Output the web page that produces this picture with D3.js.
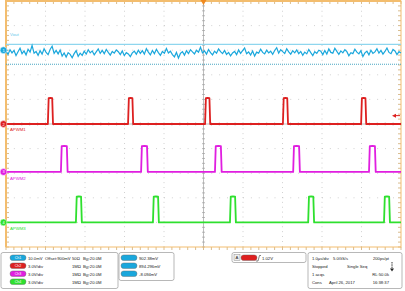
<!DOCTYPE html>
<html>
<head>
<meta charset="utf-8">
<script src="https://cdn.jsdelivr.net/npm/d3@7"></script>
<style>
  html, body { margin: 0; padding: 0; background: #fff; }
  svg text { font-family: "Liberation Sans", Arial, sans-serif; }
</style>
</head>
<body>
<div id="scope"></div>
<script>
// Scope capture values (time in µs, voltage in V or mV)
const vout = [899.6, 898.3, 900.2, 898.9, 899.9, 897.8, 899.4, 900.8, 898.6, 899.7, 898.1, 900.4, 899.2, 901.9, 898.8, 899.5,
  897.9, 899.8, 898.4, 900.6, 899.1, 898.2, 900.3, 901.6, 898.7, 899.9, 898.5, 900.1, 897.6, 898.9, 897.2, 899.0,
  898.3, 896.9, 898.6, 899.8, 897.5, 898.8, 897.9, 899.6, 898.4, 900.2, 898.9, 899.7, 898.1, 899.3, 900.5, 898.7,
  899.9, 898.6, 900.3, 899.1, 898.0, 899.5, 898.8, 900.1, 899.4, 898.2, 899.7, 897.8, 899.0, 898.5, 897.4, 898.9,
  899.6, 898.3, 900.0, 898.7, 899.8, 898.4, 900.6, 899.2, 898.1, 899.9, 898.6, 900.4, 899.0, 897.9, 899.5, 898.8,
  900.7, 898.9, 899.6, 898.2, 897.3, 899.1, 896.8, 898.7, 899.4, 898.0, 899.8, 898.6, 900.2, 899.3, 898.5, 900.0,
  899.2, 901.2, 898.9, 899.7, 898.4, 900.3, 899.0, 898.1, 899.6, 898.8, 900.5, 899.4, 898.6, 899.9, 898.3, 899.1,
  897.7, 898.9, 899.5, 898.2, 900.1, 898.7, 899.8, 900.9, 898.6, 899.3, 898.0, 899.7, 897.6, 899.2, 898.8, 900.4,
  899.1, 898.5, 900.0, 898.9, 899.6, 898.3, 899.9, 901.0, 898.8, 900.2, 899.4, 898.7, 900.6, 899.3, 898.4, 899.8,
  898.9, 900.1, 898.6, 899.5, 897.9, 899.2, 898.5, 900.3, 899.0, 897.8, 899.4, 898.7, 900.0, 899.6, 898.2, 899.9,
  898.4, 900.5, 899.1, 898.8, 900.8, 899.5, 898.3, 899.7, 898.9, 900.2, 899.4, 897.7, 899.0, 898.6, 900.4, 899.2,
  898.5, 899.8, 897.4, 898.9, 899.6, 898.1, 900.0, 898.7, 899.3, 900.6, 898.8, 899.9, 898.4, 899.5, 900.9, 899.1,
  898.6, 900.3, 899.7, 898.2, 899.4, 898.9];
const pwm1Starts = [-3.94, -1.91, 0.04, 2.01, 3.99];
const pwm2Starts = [-3.61, -1.58, 0.29, 2.27, 4.19];
const pwm3Starts = [-3.23, -1.28, 0.67, 2.65, 4.57];
const pulseWidths = [0.13, 0.17, 0.15];
const pulseHigh = 3.15;
const cursorA = 902.38, cursorB = 894.296;
const triggerLevel = 1.02;

const chanRows = [
  ["10.0mV", "Offset:900mV", "50Ω", "20.0M"],
  ["3.0V/div", "", "1MΩ", "20.0M"],
  ["3.0V/div", "", "1MΩ", "20.0M"],
  ["3.0V/div", "", "1MΩ", "20.0M"]
];
const measRows = ["902.38mV", "894.296mV", "-8.094mV"];
const timeRows = [
  ["1.0µs/div", "5.0GS/s", "200ps/pt"],
  ["Stopped", "Single Seq", ""],
  ["1 acqs", "", "RL:50.0k"],
  ["Cons", "April 26, 2017", "16:38:37"]
];

const W = 405, H = 291;
const X0 = 6, X1 = 401, Y0 = 1, Y1 = 247;
const divH = (Y1 - Y0) / 10;
const colors = { c1: "#1aa7dc", c2: "#dd2020", c3: "#e01ee0", c4: "#2ee02e", frame: "#f3bd6e" };

const svg = d3.select("#scope").append("svg")
  .attr("width", W).attr("height", H);

const x = d3.scaleLinear().domain([-5, 5]).range([X0, X1]);

// channel vertical scale: position in divisions, volts per division, offset
function chanScale(pos, vdiv, offset) {
  return d3.scaleLinear()
    .domain([offset - (5 + pos) * vdiv, offset + (5 - pos) * vdiv])
    .range([Y1, Y0]);
}
const y1 = chanScale(3, 10, 900);
const y2 = chanScale(0, 3, 0);
const y3 = chanScale(-1.95, 3, 0);
const y4 = chanScale(-4, 3, 0);

// graticule
const grid = svg.append("g");
d3.range(1, 10).forEach(i => {
  if (i === 5) return;
  const gx = X0 + i * (X1 - X0) / 10;
  grid.append("line").attr("x1", gx).attr("x2", gx).attr("y1", Y0).attr("y2", Y1)
    .attr("stroke", "#b8b8b8").attr("stroke-width", 0.8).attr("stroke-dasharray", "0.8,4.1");
  const gy = Y0 + i * divH;
  grid.append("line").attr("x1", X0).attr("x2", X1).attr("y1", gy).attr("y2", gy)
    .attr("stroke", "#b8b8b8").attr("stroke-width", 0.8).attr("stroke-dasharray", "0.8,7.1");
});
const cx = x(0), cy = Y0 + 5 * divH;
grid.append("line").attr("x1", cx).attr("x2", cx).attr("y1", Y0).attr("y2", Y1)
  .attr("stroke", "#a0a0a0").attr("stroke-width", 0.7);
grid.append("line").attr("x1", X0).attr("x2", X1).attr("y1", cy).attr("y2", cy)
  .attr("stroke", "#a0a0a0").attr("stroke-width", 0.7);
// minor ticks on center lines and frame
const tickG = svg.append("g").attr("stroke-width", 0.7);
d3.range(0, 51).forEach(i => {
  const tx = X0 + i * (X1 - X0) / 50;
  tickG.append("line").attr("x1", tx).attr("x2", tx).attr("y1", cy - 1.5).attr("y2", cy + 1.5).attr("stroke", "#a0a0a0");
  tickG.append("line").attr("x1", tx).attr("x2", tx).attr("y1", Y0).attr("y2", Y0 + 3).attr("stroke", "#c9a060");
  tickG.append("line").attr("x1", tx).attr("x2", tx).attr("y1", Y1).attr("y2", Y1 + 3).attr("stroke", "#c9a060");
  const ty = Y0 + i * (Y1 - Y0) / 50;
  tickG.append("line").attr("x1", cx - 1.5).attr("x2", cx + 1.5).attr("y1", ty).attr("y2", ty).attr("stroke", "#a0a0a0");
  tickG.append("line").attr("x1", X0).attr("x2", X0 + 3).attr("y1", ty).attr("y2", ty).attr("stroke", "#c9a060");
  tickG.append("line").attr("x1", X1 - 3).attr("x2", X1).attr("y1", ty).attr("y2", ty).attr("stroke", "#c9a060");
});

// frame
svg.append("rect").attr("x", X0).attr("y", Y0).attr("width", X1 - X0).attr("height", Y1 - Y0)
  .attr("fill", "none").attr("stroke", colors.frame).attr("stroke-width", 1);
svg.append("line").attr("x1", X0).attr("x2", X0).attr("y1", 0).attr("y2", Y1)
  .attr("stroke", colors.frame).attr("stroke-width", 2);
svg.append("line").attr("x1", X0).attr("x2", X1).attr("y1", Y0).attr("y2", Y0)
  .attr("stroke", colors.frame).attr("stroke-width", 2);

// cursors on channel 1
svg.append("line").attr("x1", X0).attr("x2", X1).attr("y1", y1(cursorA)).attr("y2", y1(cursorA))
  .attr("stroke", "#8fd6ee").attr("stroke-width", 1.4);
svg.append("line").attr("x1", X0).attr("x2", X1).attr("y1", y1(cursorB)).attr("y2", y1(cursorB))
  .attr("stroke", "#4aa6c2").attr("stroke-width", 1.2).attr("stroke-dasharray", "1,1");

// traces
const dt = 10 / (vout.length - 1);
const line1 = d3.line().x((d, i) => x(-5 + i * dt)).y(d => y1(d));
svg.append("path").datum(vout).attr("d", line1)
  .attr("fill", "none").attr("stroke", colors.c1).attr("stroke-width", 1.2);

function pulseTrain(starts, width) {
  const pts = [[-5, 0]];
  starts.forEach(s => {
    pts.push([s, 0], [s + 0.02, pulseHigh], [s + width / 2, pulseHigh * 1.01],
      [s + width - 0.02, pulseHigh], [s + width, 0]);
  });
  pts.push([5, 0]);
  return pts;
}
[[pwm1Starts, y2, colors.c2, 0], [pwm2Starts, y3, colors.c3, 1], [pwm3Starts, y4, colors.c4, 2]]
  .forEach(([starts, ys, col, k]) => {
    const ln = d3.line().x(d => x(d[0])).y(d => ys(d[1]));
    svg.append("path").datum(pulseTrain(starts, pulseWidths[k])).attr("d", ln)
      .attr("fill", "none").attr("stroke", col).attr("stroke-width", 1.8)
      .attr("stroke-linejoin", "round");
  });

// trace labels
const labels = [["Vout", y1(900) - 14, "#5cc6ea"], ["APWM1", y2(0) + 7, colors.c2],
  ["APWM2", y3(0) + 8, colors.c3], ["APWM3", y4(0) + 8, colors.c4]];
labels.forEach(([t, ly, col]) => {
  svg.append("text").attr("x", 10).attr("y", ly).attr("font-size", 4.3).attr("fill", col).text(t);
});

// channel ground markers
[[y1(900), colors.c1, "1"], [y2(0), colors.c2, "2"], [y3(0), colors.c3, "3"], [y4(0), colors.c4, "4"]]
  .forEach(([my, col, n]) => {
    svg.append("path").attr("d", `M${3.5},${my - 3.2} L${8},${my} L${3.5},${my + 3.2} Z`).attr("fill", col);
    svg.append("circle").attr("cx", 3.5).attr("cy", my).attr("r", 3.4).attr("fill", col)
      .attr("stroke", "#fff").attr("stroke-width", 0.5);
    svg.append("text").attr("x", 3.5).attr("y", my + 1.5).attr("text-anchor", "middle")
      .attr("font-size", 4).attr("fill", "#fff").text(n);
  });

// trigger markers
svg.append("path").attr("d", `M${cx - 3},0 L${cx + 3},0 L${cx},5 Z`).attr("fill", "#f08a20");
const ty2 = y2(triggerLevel);
svg.append("path").attr("d", `M${X1 - 9},${ty2} L${X1 - 5},${ty2 - 2} L${X1 - 5},${ty2 + 2} Z`).attr("fill", colors.c2);
svg.append("line").attr("x1", X1 - 6).attr("x2", X1 - 1).attr("y1", ty2).attr("y2", ty2)
  .attr("stroke", colors.c2).attr("stroke-width", 1);

// bottom panels
const panel = svg.append("g");
function box(bx, by, bw, bh) {
  panel.append("rect").attr("x", bx).attr("y", by).attr("width", bw).attr("height", bh)
    .attr("rx", 2).attr("fill", "#fff").attr("stroke", "#9a9a9a").attr("stroke-width", 0.7);
}
function txt(tx, ty, t, anchor) {
  panel.append("text").attr("x", tx).attr("y", ty).attr("font-size", 4.2).attr("fill", "#1a1a1a")
    .attr("text-anchor", anchor || "start").text(t);
}
function pill(px, py, col, t) {
  panel.append("rect").attr("x", px).attr("y", py - 3.6).attr("width", 16).attr("height", 5.6)
    .attr("rx", 2.8).attr("fill", col).attr("stroke", "#666").attr("stroke-width", 0.4);
  panel.append("text").attr("x", px + 8).attr("y", py + 0.6).attr("font-size", 3.6)
    .attr("text-anchor", "middle").attr("fill", "#fff").text(t);
}
const rowY = [259.5, 267.5, 275.5, 283.5];
const chanCols = [colors.c1, colors.c2, colors.c3, colors.c4];

box(1, 252.5, 117, 36);
chanRows.forEach((r, i) => {
  pill(10, rowY[i] - 1, chanCols[i], "Ch" + (i + 1));
  txt(28, rowY[i], r[0]);
  if (r[1]) txt(45, rowY[i], r[1]);
  txt(72, rowY[i], r[2]);
  panel.append("text").attr("x", 83).attr("y", rowY[i]).attr("font-size", 4.2).attr("fill", "#1a1a1a")
    .html(`B<tspan font-size="3" dy="1">W</tspan><tspan dy="-1">:${r[3]}</tspan>`);
});

box(119, 252.5, 55, 28);
measRows.forEach((m, i) => {
  pill(121, rowY[i] - 1, colors.c1, "");
  txt(139, rowY[i], m);
});

box(232, 252.5, 74, 10);
panel.append("rect").attr("x", 234).attr("y", 254.5).attr("width", 6).attr("height", 6)
  .attr("fill", "#eee").attr("stroke", "#777").attr("stroke-width", 0.4);
txt(237, 259.3, "A", "middle");
pill(241, 258.5, colors.c2, "");
panel.append("path").attr("d", "M256,261 L258,261 L259.5,255.5 L261,255.5")
  .attr("fill", "none").attr("stroke", "#333").attr("stroke-width", 0.6);
txt(262, 259.5, triggerLevel.toFixed(2) + "V");

box(308, 252.5, 94, 36);
timeRows.forEach((r, i) => {
  txt(312, rowY[i], r[0]);
  if (r[1]) txt(i === 0 ? 333 : i === 1 ? 347 : 329, rowY[i], r[1]);
  if (r[2]) txt(389, rowY[i], r[2], "end");
});
panel.append("line").attr("x1", 392).attr("x2", 392).attr("y1", 262).attr("y2", 270)
  .attr("stroke", "#222").attr("stroke-width", 0.9).attr("stroke-dasharray", "1.5,0.8");
panel.append("path").attr("d", "M390,268.5 L394,268.5 L392,271.5 Z").attr("fill", "#222");
</script>
</body>
</html>
